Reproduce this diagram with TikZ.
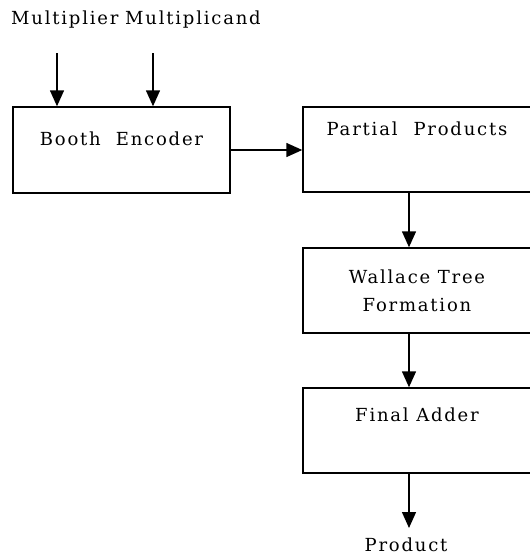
\documentclass[tikz,border=0pt]{standalone}
\usepackage{fontspec}
\setmainfont{DejaVu Serif}[LetterSpace=10]
\usetikzlibrary{arrows.meta}

\begin{document}
\begin{tikzpicture}[x=1pt,y=-1pt,
    every node/.style={font=\fontsize{18}{28}\selectfont},
    blockbox/.style={draw,line width=1.4pt,inner sep=0pt,minimum width=228pt,minimum height=85pt},
    flow/.style={line width=1.4pt,-{Triangle[length=16pt,width=14pt]}}]
  \useasboundingbox (0,0) rectangle (530,558);
  % inputs
  \node [anchor=base west,inner sep=0pt] (mlr) at (11,24) {Multiplier};
  \node [anchor=base west,inner sep=0pt] (mcd) at (125,24) {Multiplicand};
  \coordinate (mlrin) at (57,53);
  \coordinate (mcdin) at (153,53);
  % blocks
  \node [blockbox,minimum width=217pt,minimum height=86pt,text height=38pt,text depth=48pt] (booth) at (121.5,150) {Booth\hspace{15pt}Encoder};
  \node [blockbox,text height=28pt,text depth=57pt] (pp) at (417,149.5) {Partial\hspace{16pt}Products};
  \node [blockbox,align=center] (wt) at (417,290.5) {Wallace Tree\\Formation};
  \node [blockbox,text height=33pt,text depth=52pt] (fa) at (417,430.5) {Final Adder};
  % output
  \node [anchor=base,inner sep=0pt] (prod) at (406,551) {Product};
  \coordinate (col) at (409,0);
  \coordinate (prodin) at (409,528);
  % connectors
  \draw [flow] (mlrin) -- (mlrin |- booth.north);
  \draw [flow] (mcdin) -- (mcdin |- booth.north);
  \draw [flow] (booth.east) -- (booth.east -| pp.west);
  \draw [flow] (pp.south -| col) -- (wt.north -| col);
  \draw [flow] (wt.south -| col) -- (fa.north -| col);
  \draw [flow] (fa.south -| col) -- (prodin);
\end{tikzpicture}
\end{document}
